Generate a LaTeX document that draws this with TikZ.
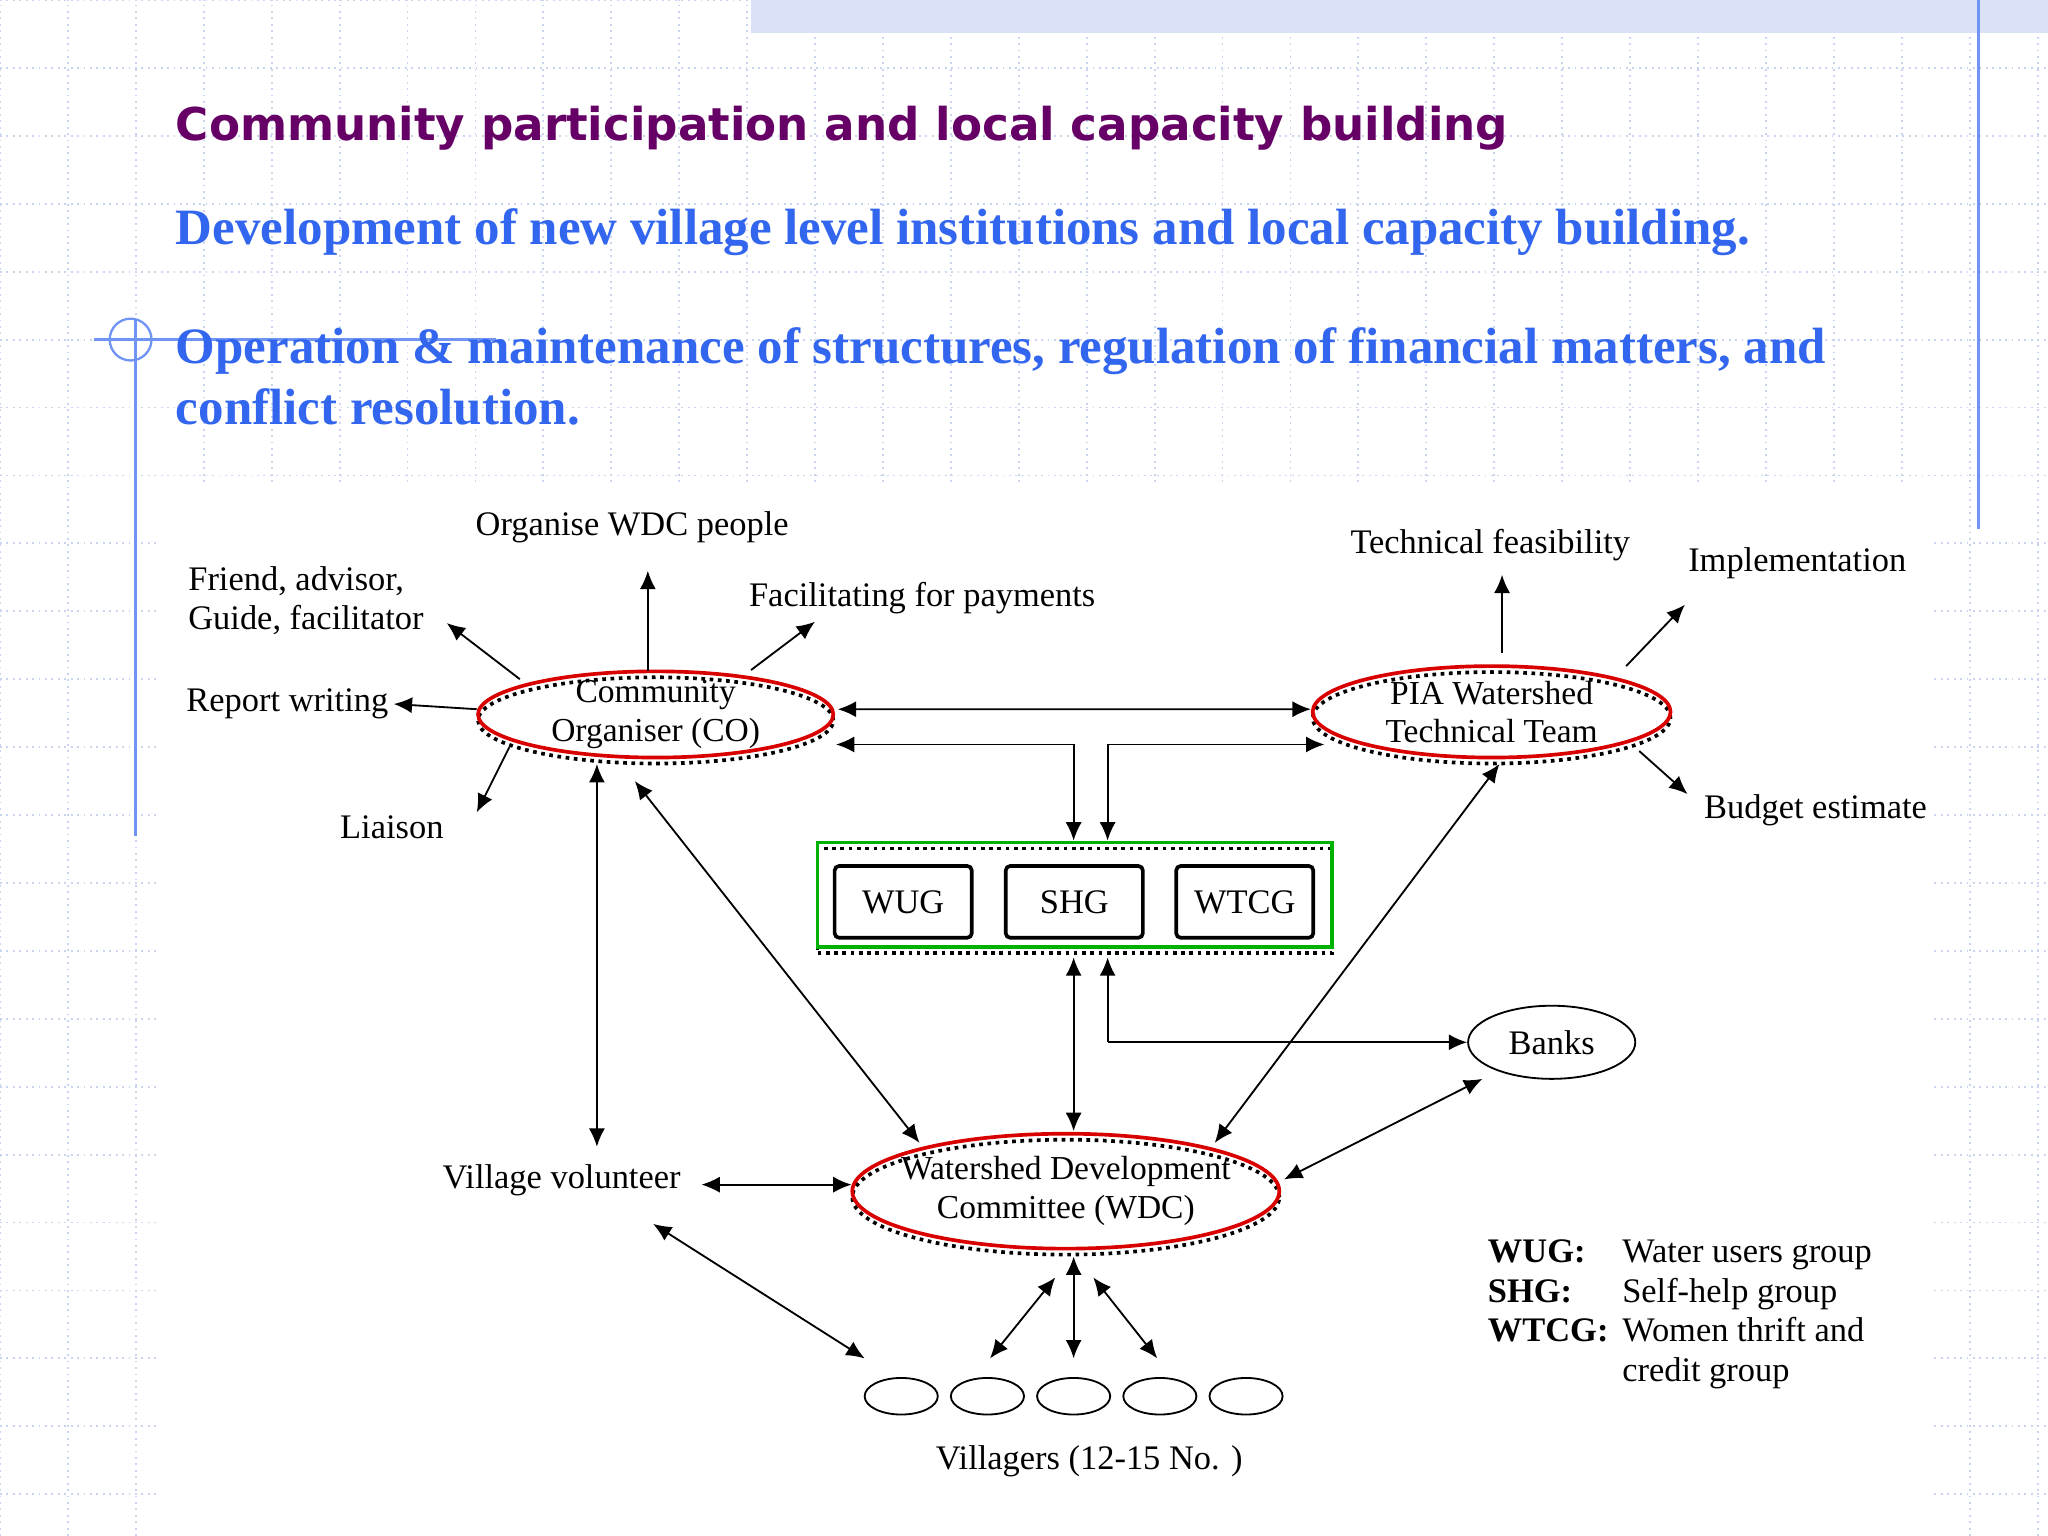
\documentclass[tikz,border=0pt]{standalone}
\usepackage{fontspec}
\setmainfont{Liberation Serif}
\newfontfamily\titlefont{DejaVu Sans}
\usetikzlibrary{shapes.geometric,arrows.meta}
\definecolor{ttl}{HTML}{660066}
\definecolor{blu}{HTML}{3366EE}
\definecolor{grd}{HTML}{C8D4F0}
\tikzset{
 lbl/.style={font=\fontsize{7.5}{8.6}\selectfont,inner sep=1pt,align=center},
 oval/.style={ellipse,draw=red!85!black,thick,inner sep=-3pt,align=center,font=\fontsize{7.3}{8.4}\selectfont,
   preaction={draw=black,densely dotted,thick,transform canvas={yshift=-1.3pt}}},
 grpbox/.style={draw,rounded corners=1pt,thick,minimum width=1.05cm,minimum height=0.55cm,font=\fontsize{7.5}{8.6}\selectfont},
 vill/.style={ellipse,draw,thin,minimum width=0.56cm,minimum height=0.28cm,inner sep=0pt},
 arr/.style={-{Latex[length=4pt,width=3.5pt]},thin},
 dbl/.style={{Latex[length=4pt,width=3.5pt]}-{Latex[length=4pt,width=3.5pt]},thin},
}
\begin{document}
\begin{tikzpicture}[x=1cm,y=1cm]
\useasboundingbox (0,0) rectangle (15.68,-11.76);
\fill[white] (0,0) rectangle (15.68,-11.76);
\draw[grd,densely dotted,line width=0.4pt] (0,-11.76) grid[step=0.52] (15.68,0);
\fill[grd!70] (5.75,0) rectangle (15.68,-0.25);
\draw[blu!70,line width=0.6pt] (1.04,-2.45) -- (1.04,-6.4);
\draw[blu!70,line width=0.6pt] (15.15,0) -- (15.15,-4.05);
\draw[blu!70,line width=0.5pt] (1.0,-2.6) circle (0.16);
\draw[blu!70,line width=0.5pt] (0.72,-2.6) -- (3.8,-2.6);
\fill[white] (1.2,-3.7) rectangle (14.8,-11.76);
% titles
\node[anchor=west,font=\titlefont\bfseries\fontsize{9.85}{11}\selectfont,text=ttl,inner sep=0] (title) at (1.34,-0.98) {Community participation and local capacity building};
\node[anchor=west,font=\bfseries\fontsize{11.1}{12}\selectfont,text=blu,inner sep=0] (t1) at (1.34,-1.78) {Development of new village level institutions and local capacity building.};
\node[anchor=north west,font=\bfseries\fontsize{11.1}{13.4}\selectfont,text=blu,inner sep=0,align=left] (t2) at (1.34,-2.50) {Operation \& maintenance of structures, regulation of financial matters, and\\conflict resolution.};
% main nodes
\node[oval,minimum width=2.72cm,minimum height=0.66cm] (co) at (5.02,-5.47) {Community\\Organiser (CO)};
\node[oval,minimum width=2.74cm,minimum height=0.70cm] (pia) at (11.42,-5.45) {PIA Watershed\\Technical Team};
\node[oval,minimum width=3.26cm,minimum height=0.88cm] (wdc) at (8.16,-9.12) {Watershed Development\\Committee (WDC)};
\node[ellipse,draw,thin,minimum width=1.28cm,minimum height=0.56cm,lbl] (banks) at (11.88,-7.98) {Banks};
\node[draw=green!70!black,thick,minimum width=3.94cm,minimum height=0.80cm,
  preaction={draw=black,densely dotted,thick,transform canvas={yshift=-1.3pt}}] (box) at (8.23,-6.85) {};
\node[grpbox] (wug) at (6.915,-6.905) {WUG};
\node[grpbox] (shg) at (8.225,-6.905) {SHG};
\node[grpbox] (wtcg) at (9.53,-6.905) {WTCG};
\foreach \i/\x in {1/6.90,2/7.56,3/8.22,4/8.88,5/9.54}
  \node[vill] (v\i) at (\x,-10.69) {};
% labels
\node[lbl] (orgL) at (4.84,-4.04) {Organise WDC people};
\node[lbl,anchor=west,align=left] (friendL) at (1.40,-4.60) {Friend, advisor,\\Guide, facilitator};
\node[lbl] (facL) at (7.06,-4.58) {Facilitating for payments};
\node[lbl] (repL) at (2.20,-5.39) {Report writing};
\node[lbl] (liaL) at (3.00,-6.33) {Liaison};
\node[lbl] (techL) at (11.41,-4.17) {Technical feasibility};
\node[lbl] (implL) at (13.76,-4.31) {Implementation};
\node[lbl] (budL) at (13.90,-6.20) {Budget estimate};
\node[lbl] (vvL) at (4.30,-9.04) {Village volunteer};
\node[lbl] (villL) at (8.34,-11.19) {Villagers (12-15 No. )};
\node[lbl,anchor=west,align=left] (leg) at (11.35,-10.06) {%
\begin{tabular}{@{}l@{\hspace{3pt}}l@{}}
\textbf{WUG:} & Water users group\\[0pt]
\textbf{SHG:} & Self-help group\\[0pt]
\textbf{WTCG:} & Women thrift and\\[0pt]
 & credit group
\end{tabular}};
% free-end coordinates
\coordinate (c1) at (4.96,-5.14);
\coordinate (c2) at (3.98,-5.20);
\coordinate (c3) at (5.75,-5.13);
\coordinate (c4) at (3.65,-5.43);
\coordinate (c5) at (3.90,-5.72);
\coordinate (coL) at (6.40,-5.70);
\coordinate (piaL) at (10.14,-5.70);
\coordinate (j1) at (8.22,-5.70);
\coordinate (j2) at (8.48,-5.70);
\coordinate (p1) at (11.50,-5.00);
\coordinate (p2) at (12.45,-5.10);
\coordinate (p3) at (12.55,-5.75);
% CO arrows
\draw[arr] (c1) -- (4.96,-4.37);
\draw[arr] (c2) -- (3.42,-4.77);
\draw[arr] (c3) -- (6.24,-4.76);
\draw[arr] (c4) -- (repL.east);
\draw[arr] (c5) -- (3.65,-6.22);
\draw[dbl] ([xshift=0.02cm,yshift=0.04cm]co.east) -- ([yshift=0.02cm]pia.west);
\draw[arr] (j1) -- (coL);
\draw[arr] (j1) -- (j1 |- box.north);
\draw[arr] (j2) -- (piaL);
\draw[arr] (j2) -- (j2 |- box.north);
% PIA arrows
\draw[arr] (p1) -- (11.50,-4.40);
\draw[arr] (p2) -- (12.90,-4.63);
\draw[arr] (p3) -- (12.92,-6.08);
% long links
\draw[dbl] (4.57,-5.85) -- (4.57,-8.78);
\draw[dbl] (4.86,-5.98) -- (7.04,-8.75);
\draw[dbl] (11.48,-5.85) -- (9.30,-8.75);
\draw[dbl] (8.22,-7.33) -- (8.22,-8.66);
\draw[arr] (8.48,-7.98) -- (8.48,-7.33);
\draw[arr] (8.48,-7.98) -- (banks.west);
\draw[dbl] (11.35,-8.26) -- (9.83,-9.03);
\draw[dbl] (5.37,-9.07) -- (6.52,-9.07);
\draw[dbl] (5.00,-9.37) -- (6.62,-10.40);
\draw[dbl] (8.08,-9.78) -- (7.58,-10.40);
\draw[dbl] (8.22,-9.62) -- (8.22,-10.40);
\draw[dbl] (8.37,-9.78) -- (8.86,-10.40);
\end{tikzpicture}
\end{document}
